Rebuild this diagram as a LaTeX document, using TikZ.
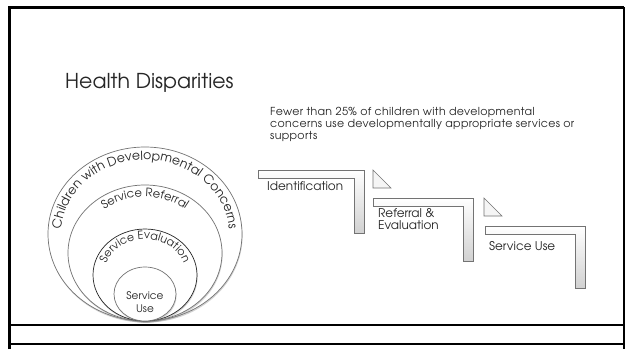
\documentclass[tikz,border=0pt]{standalone}
\usepackage{fontspec}
\setmainfont{texgyreadventor-regular.otf}
\usetikzlibrary{decorations.text,shadows}
\begin{document}
\begin{tikzpicture}[x=1pt,y=1pt,
  venn/.style={fill=white, draw=black!55, line width=0.7pt,
    drop shadow={opacity=0.35,shadow xshift=0.6pt,shadow yshift=-1.6pt}},
  bendarrow/.style={top color=white,bottom color=black!18,draw=black!55,line width=0.6pt},
  tri/.style={fill=black!4,draw=black!55,line width=0.6pt},
  lbl/.style={text=black!85,inner sep=0pt,anchor=base west,font=\fontsize{12}{12.5}\selectfont}
]
\useasboundingbox (0,0) rectangle (626,-349);
\fill[white] (0,0) rectangle (626,-349);
% frame
\draw[line width=3pt] (9.5,-349) -- (9.5,-7.5) -- (624,-7.5);
\draw[line width=2pt] (624,-7) -- (624,-349);
\draw[line width=1.4pt] (9,-325) -- (624,-325);
\draw[line width=1.4pt] (9,-344) -- (624,-344);
% title and note
\node[lbl,font=\fontsize{20.5}{21}\selectfont] (title) at (65,-88) {Health Disparities};
\node[lbl,font=\addfontfeatures{LetterSpace=3}\fontsize{11}{12}\selectfont,align=left,anchor=north west] (note) at (270,-107)
  {Fewer than 25\% of children with developmental\\concerns use developmentally appropriate services or\\supports};
% stacked circles (slightly stretched)
\path[venn] (145,-234) ellipse[x radius=97,y radius=87];
\path[venn] (145,-253) ellipse[x radius=77,y radius=68];
\path[venn,draw=black!85] (145,-275) ellipse[x radius=52,y radius=46];
\path[venn] (145,-294) ellipse[x radius=31,y radius=27];
\path[decorate,decoration={text along path,text align=center,text color=black!85,
  text={|\fontsize{12.5}{12.5}\selectfont|Children with Developmental Concerns}}]
  (145,-234) ++(205:84 and 74) arc[start angle=205,end angle=-25,x radius=84,y radius=74];
\path[decorate,decoration={text along path,text align=center,text color=black!85,
  text={|\fontsize{11.5}{11.5}\selectfont|Service Referral}}]
  (145,-253) ++(170:65 and 56) arc[start angle=170,end angle=10,x radius=65,y radius=56];
\path[decorate,decoration={text along path,text align=center,text color=black!85,
  text={|\fontsize{11}{11}\selectfont|Service Evaluation}}]
  (145,-275) ++(210:41 and 36) arc[start angle=210,end angle=-30,x radius=41,y radius=36];
\node[font=\fontsize{10.5}{13}\selectfont,align=center,text=black!85] (use) at (145,-302) {Service\\Use};
% bent arrows
\path[bendarrow] (258,-170) -- (364,-170) -- (364,-233) -- (354,-233) -- (354,-178) -- (258,-178) -- cycle;
\path[bendarrow] (373,-198) -- (473,-198) -- (473,-261) -- (463,-261) -- (463,-206) -- (373,-206) -- cycle;
\path[bendarrow] (485,-226) -- (585,-226) -- (585,-288) -- (575,-288) -- (575,-234) -- (485,-234) -- cycle;
\path[tri] (373,-170) -- (373,-188) -- (391,-188) -- cycle;
\path[tri] (484,-198) -- (484,-216) -- (502,-216) -- cycle;
\node[lbl] (ident) at (267,-190) {Identification};
\node[lbl,anchor=north west,align=left] (refev) at (378,-208) {Referral \&\\Evaluation};
\node[lbl] (suse) at (489,-250) {Service Use};
\end{tikzpicture}
\end{document}
